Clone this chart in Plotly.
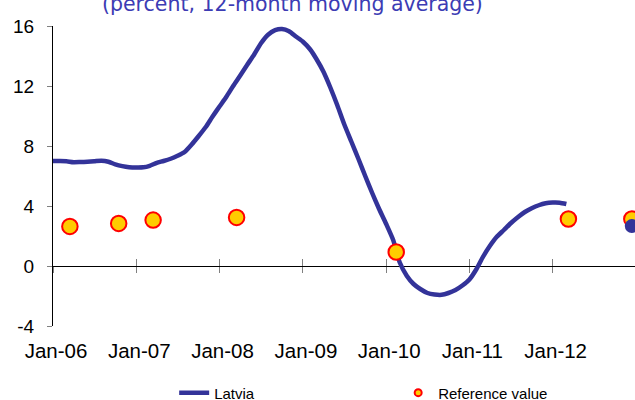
import plotly.graph_objects as go
import pandas as pd

# ---- data ----
month_dates = pd.date_range("2006-01-01", periods=75, freq="MS")
latvia_values = [
    7.00, 7.00, 6.98, 6.92, 6.93, 6.95, 6.98, 7.02, 6.95, 6.78, 6.66, 6.59,
    6.57, 6.58, 6.68, 6.88, 7.00, 7.15, 7.35, 7.60, 8.10, 8.65, 9.25, 9.95,
    10.63, 11.30, 12.00, 12.70, 13.40, 14.10, 14.85, 15.42, 15.72, 15.80, 15.65, 15.30,
    14.95, 14.45, 13.80, 12.95, 11.90, 10.70, 9.45, 8.30, 7.15, 6.00, 4.85, 3.80,
    2.80, 1.72, 0.25, -0.65, -1.20, -1.55, -1.80, -1.90, -1.92, -1.80, -1.60, -1.30,
    -0.90, -0.20, 0.60, 1.35, 1.95, 2.40, 2.85, 3.25, 3.60, 3.85, 4.05, 4.18,
    4.23, 4.22, 4.13,
]
ref_dates = ["2006-03-16", "2006-10-16", "2007-03-16", "2008-03-16",
             "2010-02-14", "2012-03-10", "2012-12-13"]
ref_values = [2.64, 2.84, 3.06, 3.24, 0.93, 3.13, 3.13]
latest_dates = ["2012-12-13"]
latest_values = [2.66]

year_ticks = list(pd.date_range("2006-01-01", "2012-01-01", freq="YS"))
year_labels = ["Jan-06", "Jan-07", "Jan-08", "Jan-09", "Jan-10", "Jan-11", "Jan-12"]
y_ticks = [-4, 0, 4, 8, 12, 16]
y_labels = ["-4", "0", "4", "8", "12", "16"]

x_range = ["2006-01-01", "2012-12-27"]
navy = "#333399"
axis_font = "Liberation Sans, Arial, sans-serif"

fig = go.Figure()
fig.add_trace(go.Scatter(
    x=month_dates, y=latvia_values, mode="lines", name="Latvia",
    line=dict(color=navy, width=4.5, shape="spline", smoothing=0.6),
    hoverinfo="skip",
))
fig.add_trace(go.Scatter(
    x=ref_dates, y=ref_values, mode="markers", showlegend=False,
    marker=dict(size=15.5, color="#FFCC00", line=dict(color="#FF0000", width=2)),
    hoverinfo="skip",
))
fig.add_trace(go.Scatter(
    x=latest_dates, y=latest_values, mode="markers", showlegend=False,
    marker=dict(size=14, color=navy),
    hoverinfo="skip",
))
fig.add_trace(go.Scatter(
    x=[None], y=[None], mode="markers", name="Reference value",
    marker=dict(size=7, color="#FFCC00", line=dict(color="#FF0000", width=2)),
    hoverinfo="skip",
))
# helper traces so the crossing tick axes are drawn
fig.add_trace(go.Scatter(x=[None], y=[None], xaxis="x2", showlegend=False, hoverinfo="skip"))
fig.add_trace(go.Scatter(x=[None], y=[None], xaxis="x3", showlegend=False, hoverinfo="skip"))

tick_axis_common = dict(
    type="date", range=x_range, overlaying="x", anchor="free", position=0.2,
    showline=False, showgrid=False, zeroline=False, showticklabels=False,
    tickmode="array", tickvals=year_ticks, tickcolor="#808080", tickwidth=1,
)

fig.update_layout(
    width=635, height=400,
    margin=dict(l=53, r=0, t=26, b=74, autoexpand=False),
    paper_bgcolor="white", plot_bgcolor="white",
    showlegend=True,
    legend=dict(
        orientation="h", x=0.2082, xanchor="left", y=-0.223, yanchor="middle",
        font=dict(family=axis_font, size=15, color="black"),
        entrywidth=179, entrywidthmode="pixels", bgcolor="rgba(0,0,0,0)",
    ),
    xaxis=dict(
        type="date", range=x_range, showline=False, showgrid=False, zeroline=False,
        ticks="", tickmode="array", tickvals=year_ticks, ticktext=year_labels,
        tickfont=dict(family=axis_font, size=20.5, color="black"),
        ticklabelstandoff=10, ticklabelshift=3,
    ),
    xaxis2=dict(ticks="outside", ticklen=6, **tick_axis_common),
    xaxis3=dict(ticks="inside", ticklen=7, **tick_axis_common),
    yaxis=dict(
        range=[-4, 16], showline=True, linecolor="black", linewidth=1,
        ticks="outside", ticklen=5, tickcolor="#808080", tickwidth=1,
        tickmode="array", tickvals=y_ticks, ticktext=y_labels,
        tickfont=dict(family=axis_font, size=19, color="black"),
        ticklabelstandoff=9,
        showgrid=False, zeroline=True, zerolinecolor="black", zerolinewidth=1,
    ),
    annotations=[dict(
        text="(percent, 12-month moving average)", xref="paper", yref="paper",
        x=0.4117, y=1.027, xanchor="center", yanchor="bottom", showarrow=False,
        font=dict(family="DejaVu Sans", size=20.5, color="#3c3cb4"),
    )],
)

fig.write_html(
    "out.html",
    config={"displayModeBar": False},
    post_script="document.body.style.margin='0';document.body.style.overflow='hidden';",
)
